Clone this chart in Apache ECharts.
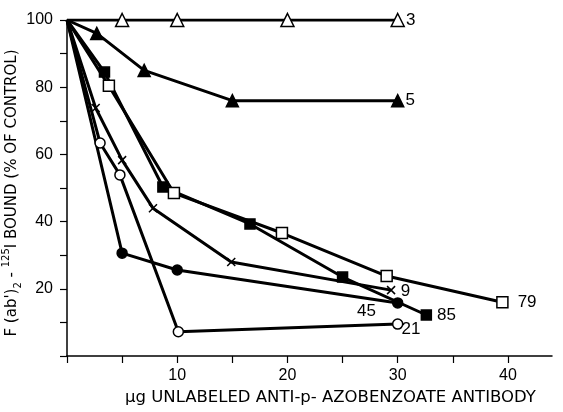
<!DOCTYPE html>
<html><head><meta charset="utf-8">
<script src="https://cdn.jsdelivr.net/npm/echarts@6/dist/echarts.min.js"></script>
<style>html,body{margin:0;padding:0;background:#fff}#c{width:563px;height:412px}</style>
</head><body><div id="c"></div>
<script>
// Data (x: µg unlabeled antibody, y: % of control)
const s3x = [0, 5, 10, 20, 30];
const s3y = [100, 100, 100, 100, 100];
const s5x = [0, 2.7, 7, 15, 30];
const s5y = [100, 96, 85, 76, 76];
const s85x = [0, 3.4, 8.7, 16.6, 25, 32.6];
const s85y = [100, 84.5, 50.3, 39.3, 23.5, 12.2];
const s79x = [0, 3.8, 9.7, 19.5, 29, 39.5];
const s79y = [100, 80.4, 48.5, 36.6, 23.8, 16];
const s9x = [0, 2.6, 5, 7.8, 14.9, 29.4];
const s9y = [100, 73.8, 58.3, 44, 28, 19.6];
const s21x = [0, 3, 4.8, 10.1, 30];
const s21y = [100, 63.4, 53.9, 7.2, 9.5];
const s45x = [0, 5, 10, 30];
const s45y = [100, 30.6, 25.6, 15.8];
const yTickLabels = [20, 40, 60, 80, 100];
const xTickLabels = [10, 20, 30, 40];

const FONT = 'Liberation Sans';
const TFONT = 'DejaVu Sans';
const chart = echarts.init(document.getElementById('c'));

function mk(name, xs, ys, symbol, size, open, labelPos, labelOffset) {
  const data = xs.map((x, i) => {
    const d = { value: [x, ys[i]] };
    if (i === 0) d.symbol = 'none';
    if (i === xs.length - 1) {
      d.label = { show: true, formatter: name, position: labelPos, offset: labelOffset || [0, 0],
        color: '#000', fontFamily: FONT, fontSize: 17 };
    }
    return d;
  });
  const isX = symbol === 'x';
  return {
    type: 'line', name: name, data: data,
    symbol: isX ? 'path://M0,0L10,10M10,0L0,10' : symbol,
    symbolSize: size,
    showAllSymbol: true,
    lineStyle: { color: '#000', width: 3 },
    itemStyle: isX ? { color: 'rgba(0,0,0,0)', borderColor: '#000', borderWidth: 1.5 }
      : { color: open ? '#fff' : '#000', borderColor: '#000', borderWidth: 1.5 },
    emphasis: { disabled: true },
    animation: false, z: open ? 3 : 2
  };
}

chart.setOption({
  backgroundColor: '#fff',
  animation: false,
  grid: { left: 67, top: 20, right: 11, bottom: 56, containLabel: false, outerBoundsMode: 'none' },
  xAxis: {
    type: 'value', min: 0, max: 44, interval: 5,
    axisLine: { lineStyle: { color: '#000', width: 1.5 } },
    axisTick: { show: true, inside: false, length: 7, lineStyle: { color: '#000', width: 1.2 } },
    axisLabel: { color: '#000', fontFamily: FONT, fontSize: 16, margin: 12, showMaxLabel: false,
      formatter: v => xTickLabels.includes(v) ? String(v) : '' },
    splitLine: { show: false }
  },
  yAxis: {
    type: 'value', min: 0, max: 100, interval: 10,
    axisLine: { show: true, lineStyle: { color: '#000', width: 1.5 } },
    axisTick: { show: true, inside: false, length: 7, lineStyle: { color: '#000', width: 1.2 } },
    axisLabel: { color: '#000', fontFamily: FONT, fontSize: 16, margin: 14,
      formatter: v => yTickLabels.includes(v) ? String(v) : '' },
    splitLine: { show: false }
  },
  graphic: [{
    type: 'text', left: 125, top: 389,
    style: { text: 'μg UNLABELED ANTI-p- AZOBENZOATE ANTIBODY', fill: '#000', fontFamily: TFONT, fontSize: 16.5 }
  }, {
    type: 'text', x: 12, y: 193, rotation: Math.PI / 2,
    style: {
      text: "{n|F (ab')}{sub|2}{n| - }{sup|125}{n|I BOUND (% OF CONTROL)}",
      align: 'center', verticalAlign: 'middle', fill: '#000', fontFamily: TFONT,
      rich: {
        n: { fontSize: 15, lineHeight: 22, fontFamily: TFONT, fill: '#000' },
        sub: { fontSize: 10, lineHeight: 10, verticalAlign: 'bottom', fontFamily: TFONT, fill: '#000' },
        sup: { fontSize: 10, lineHeight: 10, verticalAlign: 'top', fontFamily: TFONT, fill: '#000' }
      }
    }
  }],
  series: [
    mk('3', s3x, s3y, 'triangle', 13, true, 'right', [-4, 0]),
    mk('5', s5x, s5y, 'triangle', 12, false, 'right', [-4, 0]),
    mk('85', s85x, s85y, 'rect', 10, false, 'right', [0, 0]),
    mk('79', s79x, s79y, 'rect', 11, true, 'right', [4, 0]),
    mk('9', s9x, s9y, 'x', 8, false, 'right', [0, 1]),
    mk('21', s21x, s21y, 'circle', 10, true, 'right', [-7, 5]),
    mk('45', s45x, s45y, 'circle', 10, false, 'left', [-11, 8])
  ]
});
</script>
</body></html>
